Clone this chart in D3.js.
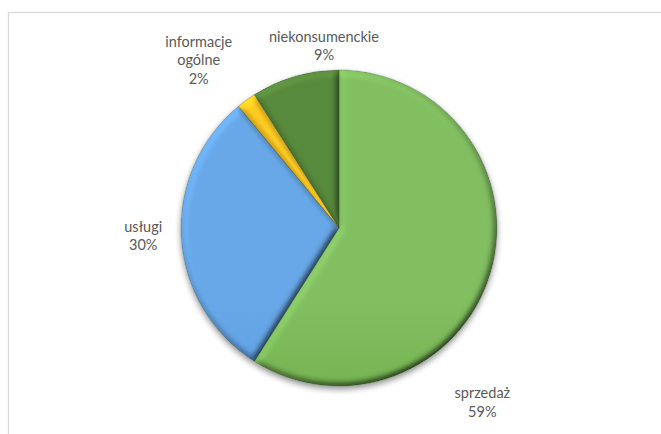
<!DOCTYPE html>
<html>
<head>
<meta charset="utf-8">
<script src="https://cdn.jsdelivr.net/npm/d3@7"></script>
<style>
  html, body { margin: 0; padding: 0; background: #fff; }
  svg { display: block; }
</style>
</head>
<body>
<svg id="chart" width="661" height="434"></svg>
<script>
// Share of requests by category
const categories = ["sprzedaż", "usługi", "informacje ogólne", "niekonsumenckie"];
const values = [59, 30, 2, 9];
const percentLabels = ["59%", "30%", "2%", "9%"];

// Slice colours: light (top) and dark (bottom) gradient stops
const topColors = ["#82bf61", "#68a8e8", "#ffcc22", "#588a3c"];
const bottomColors = ["#5a9b30", "#4a8dd2", "#e0a400", "#446d2b"];

// Label anchors in polar terms (degrees clockwise from 12 o'clock, distance from centre)
const labelAngles = [140.6, 267.7, 320.1, 355.3];
const labelRadii = [225.8, 195.9, 218.7, 182.8];

const W = 661, H = 434;
const cx = 339, cy = 228, R = 158;
const lineH = 18.3;

const svg = d3.select("#chart");
const defs = svg.append("defs");

// Frame around the chart area
svg.append("rect")
  .attr("x", 8.5).attr("y", 12.5)
  .attr("width", 700).attr("height", 500)
  .attr("fill", "none")
  .attr("stroke", "#d9d9d9")
  .attr("stroke-width", 1.3);

// Soft drop shadow beneath the pie
const shadow = defs.append("filter").attr("id", "shadow")
  .attr("x", "-20%").attr("y", "-20%").attr("width", "140%").attr("height", "140%");
shadow.append("feGaussianBlur").attr("in", "SourceAlpha").attr("stdDeviation", 3).attr("result", "b");
shadow.append("feOffset").attr("in", "b").attr("dx", 0).attr("dy", 3).attr("result", "o");
shadow.append("feComponentTransfer").attr("in", "o").attr("result", "s")
  .append("feFuncA").attr("type", "linear").attr("slope", 0.45);
const sm = shadow.append("feMerge");
sm.append("feMergeNode").attr("in", "s");
sm.append("feMergeNode").attr("in", "SourceGraphic");

// Rounded bevel on each slice, lit from the upper left
const bevel = defs.append("filter").attr("id", "bevel")
  .attr("x", "-10%").attr("y", "-10%").attr("width", "120%").attr("height", "120%");
bevel.append("feGaussianBlur").attr("in", "SourceAlpha").attr("stdDeviation", 3.5).attr("result", "blur");
bevel.append("feDiffuseLighting")
  .attr("in", "blur").attr("surfaceScale", 5).attr("diffuseConstant", 1)
  .attr("lighting-color", "#ffffff").attr("result", "light")
  .append("feDistantLight").attr("azimuth", 235).attr("elevation", 55);
bevel.append("feComposite")
  .attr("in", "SourceGraphic").attr("in2", "light")
  .attr("operator", "arithmetic")
  .attr("k1", 1 / Math.sin(55 * Math.PI / 180)).attr("k2", 0).attr("k3", 0).attr("k4", 0)
  .attr("result", "lit");
bevel.append("feComposite").attr("in", "lit").attr("in2", "SourceAlpha").attr("operator", "in");

categories.forEach((c, i) => {
  const g = defs.append("linearGradient").attr("id", "grad" + i)
    .attr("gradientUnits", "userSpaceOnUse")
    .attr("x1", 0).attr("y1", cy - R).attr("x2", 0).attr("y2", cy + R);
  g.append("stop").attr("offset", "0%").attr("stop-color", topColors[i]);
  g.append("stop").attr("offset", "100%").attr("stop-color", bottomColors[i]);
});

const data = categories.map((c, i) => ({ name: c, value: values[i], label: percentLabels[i], i }));

const pie = d3.pie().sort(null).value(d => d.value).startAngle(0).endAngle(2 * Math.PI);
const arc = d3.arc().innerRadius(0).outerRadius(R);

const pieG = svg.append("g")
  .attr("transform", `translate(${cx},${cy})`)
  .attr("filter", "url(#shadow)");

pieG.selectAll("path.slice")
  .data(pie(data))
  .join("path")
  .attr("class", "slice")
  .attr("d", arc)
  .attr("fill", d => `url(#grad${d.data.i})`)
  .attr("filter", "url(#bevel)");

// Thin seam between slices
pieG.selectAll("path.seam")
  .data(pie(data))
  .join("path")
  .attr("class", "seam")
  .attr("d", arc)
  .attr("fill", "none")
  .attr("stroke", "rgba(40,60,30,0.4)")
  .attr("stroke-width", 0.6);

// Data labels: category name (wrapped by word) and percentage
const labels = svg.append("g")
  .attr("font-family", "Lato, 'Open Sans', sans-serif")
  .attr("font-size", 14.5)
  .attr("fill", "#595959")
  .attr("text-anchor", "middle");

data.forEach((d, i) => {
  const a = labelAngles[i] * Math.PI / 180;
  const x = cx + Math.sin(a) * labelRadii[i];
  const y = cy - Math.cos(a) * labelRadii[i];
  const lines = d.name.split(" ").concat([d.label]);
  const t = labels.append("text")
    .attr("x", x)
    .attr("y", y - (lines.length - 1) * lineH / 2)
    .attr("dy", "0.35em");
  lines.forEach((ln, k) => {
    t.append("tspan").attr("x", x).attr("dy", k === 0 ? "0.35em" : lineH).text(ln);
  });
});
</script>
</body>
</html>
